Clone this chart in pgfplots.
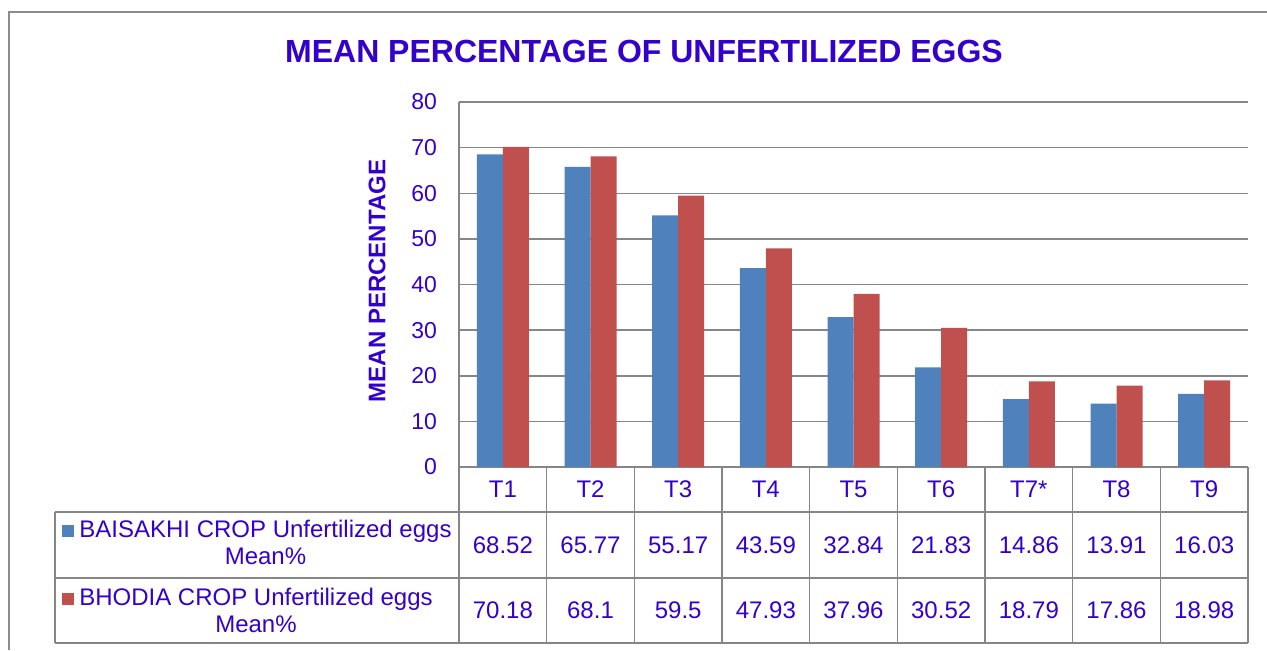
\documentclass[border=0pt]{standalone}
\usepackage{pgfplots}
\pgfplotsset{compat=1.18}
\usepackage{fontspec}
\setmainfont{Liberation Sans}
\definecolor{txt}{RGB}{51,0,204}
\definecolor{bblue}{RGB}{79,129,189}
\definecolor{bred}{RGB}{192,80,77}
\definecolor{gridc}{RGB}{134,134,134}
\definecolor{framec}{RGB}{140,140,140}
\begin{document}
\begin{tikzpicture}[x=0.5pt,y=-0.5pt]
\path[use as bounding box] (0,0) rectangle (1267,650);
\draw[framec, line width=1pt] (9,650) -- (9,12) -- (1267,12);
\begin{axis}[
  at={(229.5pt,-233.5pt)}, anchor=south west,
  width=394.5pt, height=182.5pt, scale only axis,
  xmin=0.5, xmax=9.5, ymin=0, ymax=80,
  ytick={0,10,...,80},
  xtick={1,...,9},
  xticklabels={T1,T2,T3,T4,T5,T6,T7*,T8,T9},
  ybar=0pt, bar width=13pt,
  ymajorgrids, grid style={gridc, line width=0.75pt},
  axis x line=bottom, axis y line=left,
  axis line style={gridc, line width=0.75pt, -},
  major tick length=0pt,
  /pgf/number format/assume math mode=true,
  yticklabel style={font=\fontsize{11.5}{13}\selectfont, text=txt, xshift=-7.5pt},
  xticklabel style={font=\fontsize{12}{14}\selectfont, text=txt, anchor=center, yshift=-11.25pt},
]
\addplot[fill=bblue, draw=none] coordinates {(1,68.52) (2,65.77) (3,55.17) (4,43.59) (5,32.84) (6,21.83) (7,14.86) (8,13.91) (9,16.03)};
\addplot[fill=bred, draw=none] coordinates {(1,70.18) (2,68.1) (3,59.5) (4,47.93) (5,37.96) (6,30.52) (7,18.79) (8,17.86) (9,18.98)};
\end{axis}
% data table grid
\draw[gridc, line width=0.75pt] (55,512) -- (1248,512) (55,578) -- (1248,578) (55,643) -- (1248,643) (55,512) -- (55,643);
\foreach \k in {0,...,9} \draw[gridc, line width=0.75pt] ({459+87.667*\k},467) -- ({459+87.667*\k},643);
\foreach \v [count=\i] in {68.52,65.77,55.17,43.59,32.84,21.83,14.86,13.91,16.03}
  \node[text=txt, font=\fontsize{12}{14}\selectfont] at ({459+87.667*(\i-0.5)},545) {\v};
\foreach \v [count=\i] in {70.18,68.1,59.5,47.93,37.96,30.52,18.79,17.86,18.98}
  \node[text=txt, font=\fontsize{12}{14}\selectfont] at ({459+87.667*(\i-0.5)},610) {\v};
\node[text=txt, align=center, font=\fontsize{12}{13.5}\selectfont] at (265.5,542) {\llap{\textcolor{bblue}{\rule{6pt}{6pt}}\hspace{2.5pt}}BAISAKHI CROP Unfertilized eggs\\Mean\%};
\node[text=txt, align=center, font=\fontsize{12}{13.5}\selectfont] at (256,610) {\llap{\textcolor{bred}{\rule{6pt}{6pt}}\hspace{2.5pt}}BHODIA CROP Unfertilized eggs\\Mean\%};
\node[text=txt, font=\bfseries\fontsize{16}{19}\selectfont] at (644,51) {MEAN PERCENTAGE OF UNFERTILIZED EGGS};
\node[text=txt, rotate=90, font=\bfseries\fontsize{12}{14}\selectfont] at (377,281) {MEAN PERCENTAGE};
\end{tikzpicture}
\end{document}
